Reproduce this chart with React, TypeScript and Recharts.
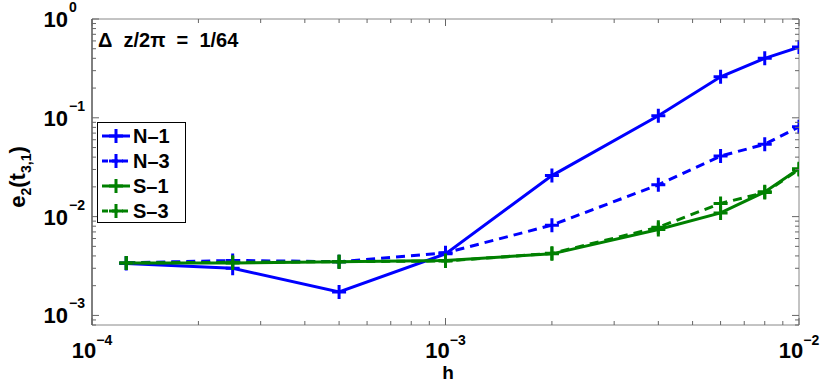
import { LineChart, Line, XAxis, YAxis } from "recharts";

const hValues = [1.25e-4, 2.5e-4, 5e-4, 1e-3, 2e-3, 4e-3, 6e-3, 8e-3, 1e-2];
const n1 = [3.35e-3, 3.0e-3, 1.73e-3, 4.2e-3, 2.6e-2, 0.105, 0.26, 0.4, 0.52];
const n3 = [3.4e-3, 3.6e-3, 3.5e-3, 4.3e-3, 8.2e-3, 2.1e-2, 4.1e-2, 5.4e-2, 8.1e-2];
const s1 = [3.4e-3, 3.4e-3, 3.5e-3, 3.6e-3, 4.2e-3, 7.4e-3, 1.09e-2, 1.78e-2, 3.05e-2];
const s3 = [3.4e-3, 3.45e-3, 3.5e-3, 3.55e-3, 4.25e-3, 7.8e-3, 1.36e-2, 1.75e-2, 3.0e-2];

const seriesNames = ["N\u20131", "N\u20133", "S\u20131", "S\u20133"];
const seriesKeys = ["n1", "n3", "s1", "s3"];
const seriesColors = ["#0000ff", "#0000ff", "#008000", "#008000"];
const seriesDashed = [false, true, false, true];

const xTicks = [
  1e-4, 2e-4, 3e-4, 4e-4, 5e-4, 6e-4, 7e-4, 8e-4, 9e-4,
  1e-3, 2e-3, 3e-3, 4e-3, 5e-3, 6e-3, 7e-3, 8e-3, 9e-3, 1e-2,
];
const yTicks = [
  8e-4, 9e-4,
  1e-3, 2e-3, 3e-3, 4e-3, 5e-3, 6e-3, 7e-3, 8e-3, 9e-3,
  1e-2, 2e-2, 3e-2, 4e-2, 5e-2, 6e-2, 7e-2, 8e-2, 9e-2,
  1e-1, 2e-1, 3e-1, 4e-1, 5e-1, 6e-1, 7e-1, 8e-1, 9e-1, 1,
];
const titleText = "\u0394  z/2\u03c0  =  1/64";

const data = hValues.map((h, i) => ({ h, n1: n1[i], n3: n3[i], s1: s1[i], s3: s3[i] }));

const FONT = "'Liberation Sans', Arial, sans-serif";
const TICK = "#666";

const expOf = (v: number) => Math.round(Math.log10(v));
const isMajor = (v: number) => Math.abs(Math.log10(v) - expOf(v)) < 1e-6;
const expText = (v: number) => {
  const e = expOf(v);
  return e < 0 ? "\u2212" + -e : String(e);
};

const BottomTick = ({ x, y, payload }: any) => {
  const v = payload.value;
  const major = isMajor(v);
  return (
    <g>
      <line x1={x} x2={x} y1={y} y2={y - (major ? 7 : 4)} stroke={TICK} />
      {major && (
        <text x={x} y={y + 33} textAnchor="middle" fontFamily={FONT} fontWeight="bold" fontSize={22} fill="#000">
          10<tspan dy={-13} fontSize={14}>{expText(v)}</tspan>
        </text>
      )}
    </g>
  );
};

const TopTick = ({ x, y, payload }: any) => {
  const major = isMajor(payload.value);
  return <line x1={x} x2={x} y1={y} y2={y + (major ? 7 : 4)} stroke={TICK} />;
};

const LeftTick = ({ x, y, payload }: any) => {
  const v = payload.value;
  const major = isMajor(v);
  return (
    <g>
      <line x1={x} x2={x + (major ? 7 : 4)} y1={y} y2={y} stroke={TICK} />
      {major && (
        <g fontFamily={FONT} fontWeight="bold" fill="#000">
          <text x={x - 24} y={y + 8} textAnchor="end" fontSize={22}>10</text>
          <text x={x - 23} y={y - 7} fontSize={14}>{expText(v)}</text>
        </g>
      )}
    </g>
  );
};

const RightTick = ({ x, y, payload }: any) => {
  const major = isMajor(payload.value);
  return <line x1={x} x2={x - (major ? 7 : 4)} y1={y} y2={y} stroke={TICK} />;
};

const plusPath = (cx: number, cy: number, r: number) =>
  `M${cx - r},${cy}L${cx + r},${cy}M${cx},${cy - r}L${cx},${cy + r}`;

const makeDot = (color: string) => (props: any) => {
  const { cx, cy, index } = props;
  if (cx == null || cy == null) return <g key={index} />;
  return <path key={index} d={plusPath(cx, cy, 7)} stroke={color} strokeWidth={3} fill="none" />;
};

export default function App() {
  return (
    <div style={{ position: "relative", width: 830, height: 383 }}>
      <style>{"body{margin:0}"}</style>
      <LineChart width={830} height={383} data={data} margin={{ top: 18, right: 30, bottom: 0, left: 0 }}>
        <XAxis
          xAxisId="b"
          dataKey="h"
          type="number"
          scale="log"
          domain={[1e-4, 1e-2]}
          allowDataOverflow
          ticks={xTicks}
          interval={0}
          height={58}
          tickSize={0}
          tickMargin={0}
          tickLine={false}
          axisLine={{ stroke: "#888" }}
          tick={<BottomTick />}
        />
        <XAxis
          xAxisId="t"
          orientation="top"
          dataKey="h"
          type="number"
          scale="log"
          domain={[1e-4, 1e-2]}
          allowDataOverflow
          ticks={xTicks}
          interval={0}
          height={1}
          tickSize={0}
          tickMargin={0}
          tickLine={false}
          axisLine={{ stroke: "#888" }}
          tick={<TopTick />}
        />
        <YAxis
          yAxisId="l"
          type="number"
          scale="log"
          domain={[8e-4, 1]}
          allowDataOverflow
          ticks={yTicks}
          interval={0}
          width={92}
          tickSize={0}
          tickMargin={0}
          tickLine={false}
          axisLine={{ stroke: "#000" }}
          tick={<LeftTick />}
        />
        <YAxis
          yAxisId="r"
          orientation="right"
          type="number"
          scale="log"
          domain={[8e-4, 1]}
          allowDataOverflow
          ticks={yTicks}
          interval={0}
          width={1}
          tickSize={0}
          tickMargin={0}
          tickLine={false}
          axisLine={{ stroke: "#888" }}
          tick={<RightTick />}
        />
        {seriesKeys.map((k, i) => (
          <Line
            key={k}
            xAxisId="b"
            yAxisId="l"
            type="linear"
            dataKey={k}
            stroke={seriesColors[i]}
            strokeWidth={3}
            strokeDasharray={seriesDashed[i] ? "9 6" : undefined}
            dot={makeDot(seriesColors[i])}
            activeDot={false}
            isAnimationActive={false}
          />
        ))}
      </LineChart>
      <svg
        width={830}
        height={383}
        style={{ position: "absolute", left: 0, top: 0, pointerEvents: "none" }}
        fontFamily={FONT}
        fontWeight="bold"
      >
        <text x={98} y={47} fontSize={20} fill="#000" style={{ whiteSpace: "pre" }}>
          {titleText}
        </text>
        <text x={448} y={379} fontSize={19} textAnchor="middle" fill="#000">h</text>
        <text transform="translate(25,177) rotate(-90)" textAnchor="middle" fontSize={22} fill="#000">
          e<tspan dy={6} fontSize={14}>2</tspan>
          <tspan dy={-6}>(t</tspan>
          <tspan dy={6} fontSize={14}>3,1</tspan>
          <tspan dy={-6}>)</tspan>
        </text>
        <rect x={97.5} y={122.5} width={88} height={100} fill="#fff" stroke="#000" strokeWidth={1} />
        {seriesNames.map((name, i) => {
          const cy = 136 + 25 * i;
          return (
            <g key={name}>
              <line
                x1={102}
                x2={130}
                y1={cy}
                y2={cy}
                stroke={seriesColors[i]}
                strokeWidth={3}
                strokeDasharray={seriesDashed[i] ? "6 4" : undefined}
              />
              <path d={plusPath(116, cy, 7)} stroke={seriesColors[i]} strokeWidth={3} fill="none" />
              <text x={133} y={cy + 7} fontSize={20} fill="#000">{name}</text>
            </g>
          );
        })}
      </svg>
    </div>
  );
}
